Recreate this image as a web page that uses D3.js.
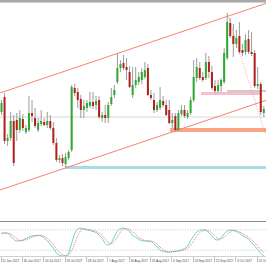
<!DOCTYPE html>
<html>
<head>
<meta charset="utf-8">
<script src="https://cdn.jsdelivr.net/npm/d3@7"></script>
<style>
  html, body { margin: 0; padding: 0; background: #fff; }
  svg { display: block; }
</style>
</head>
<body>
<svg id="chart" width="266" height="266"></svg>
<script>
// daily bars, price in points above the panel floor
var opens  = [110,125,81,84,101,102,92,103,90,92,109,104,92,98,100,97,101,94,79,62,64,58,64,72,134,130,123,112,114,116,120,117,122,104,107,104,118,127,140,154,159,155,150,127,137,140,142,145,154,127,122,112,114,121,117,112,99,106,92,108,112,105,109,122,144,154,145,144,160,150,136,131,136,140,164,199,186,178,186,172,170,183,170,169,136,138,109];
var highs  = [122,129,88,110,107,109,112,108,97,126,122,114,104,112,104,110,107,100,84,67,68,69,72,137,138,134,127,122,122,130,130,126,126,110,117,120,134,137,169,162,167,164,156,155,155,150,154,160,158,132,129,120,135,126,122,122,109,109,112,117,117,112,125,162,164,160,150,169,166,156,142,142,144,174,209,204,198,192,200,178,188,192,190,172,155,140,116];
var lows   = [107,78,76,81,56,81,89,91,88,90,100,94,90,96,96,94,92,77,60,59,56,55,62,70,126,114,104,104,110,114,113,112,103,100,99,99,116,124,138,150,152,142,134,124,134,137,138,143,126,122,109,110,112,115,106,98,94,91,91,106,104,103,107,120,140,142,140,142,144,132,129,129,130,138,162,184,165,174,168,166,167,168,166,134,133,107,105];
var closes = [119,81,84,101,59,92,104,94,94,109,106,96,99,101,97,101,94,79,62,64,59,65,70,135,129,122,112,116,119,120,116,121,105,107,104,117,125,132,154,158,154,152,135,137,142,145,150,152,127,124,112,117,122,117,107,99,102,92,109,112,106,109,122,145,155,144,142,160,150,134,131,137,142,169,200,186,178,184,170,169,182,170,168,136,138,110,113];

// stochastic %K and %D per bar
var stochK = [70,71,70,62,52,47,48,50,54,59,62,63,64,62,56,48,38,26,12,5,3,3,12,40,68,82,85,82,80,78,75,72,64,55,40,35,42,60,76,84,85,82,76,63,58,52,48,47,47,46,38,30,20,17,15,14,16,17,18,21,25,32,48,62,73,78,80,78,72,62,52,50,56,68,76,79,78,75,70,63,58,52,42,33,22,10,4];
var stochD = [68,70,70,68,61,54,49,48,51,54,58,61,63,63,61,55,47,37,25,14,7,4,6,18,40,63,78,83,82,80,78,75,70,64,53,43,39,46,59,73,82,84,81,74,66,58,53,49,47,47,44,38,29,22,17,15,15,16,17,19,21,26,35,47,61,71,77,79,77,71,62,55,53,58,67,74,78,77,74,69,64,58,51,42,32,22,12];
var stochLevels = [80, 20];

var dateTicks = [0, 7, 14, 21, 28, 35, 42, 49, 56, 63, 70, 77, 84];
var dateLabels = ["21 Jun 2017", "30 Jun 2017", "10 Jul 2017", "19 Jul 2017", "28 Jul 2017", "7 Aug 2017",
                  "16 Aug 2017", "25 Aug 2017", "4 Sep 2017", "13 Sep 2017", "22 Sep 2017", "3 Oct 2017", "12 Oct 2017"];

// drawn objects: [bar, price] anchors
var channelUpper = [[0, 129.5], [86, 217.9]];
var channelLower = [[0, 32.5], [86, 120.9]];
var dropLine = [[74, 209], [86.4, 89]];
// zones: start bar, price low, price high
var zones = [
    {from: 20.8, to: 87, lo: 53, hi: 56, color: "#a9dde4"},
    {from: 55.3, to: 87, lo: 90, hi: 94, color: "#f9a483"},
    {from: 65.4, to: 85.4, lo: 127, hi: 130, color: "#f8bccb"}
];
var levelLines = [
    {from: -1, to: 87, price: 105, color: "#d6d6d6"},
    {from: 74, to: 87, price: 131, color: "#9a9a9a"}
];

var svg = d3.select("#chart");
var W = 266;

var x = d3.scaleLinear().domain([0, 86]).range([1.5, 263.8]);
var y = d3.scaleLinear().domain([0, 218]).range([222, 4]);
var yOsc = d3.scaleLinear().domain([0, 100]).range([257, 223]);

svg.append("defs").append("clipPath").attr("id", "mainClip")
    .append("rect").attr("x", 0).attr("y", 3).attr("width", W).attr("height", 218);

// title strip
svg.append("rect").attr("x", 0).attr("y", 0).attr("width", W).attr("height", 2.5).attr("fill", "#a8a8a8");

var main = svg.append("g").attr("clip-path", "url(#mainClip)");

main.selectAll("rect.zone").data(zones).enter().append("rect")
    .attr("class", "zone")
    .attr("x", function(d) { return x(d.from); })
    .attr("width", function(d) { return x(d.to) - x(d.from); })
    .attr("y", function(d) { return y(d.hi); })
    .attr("height", function(d) { return y(d.lo) - y(d.hi); })
    .attr("fill", function(d) { return d.color; });

main.selectAll("line.level").data(levelLines).enter().append("line")
    .attr("x1", function(d) { return x(d.from); })
    .attr("x2", function(d) { return x(d.to); })
    .attr("y1", function(d) { return y(d.price); })
    .attr("y2", function(d) { return y(d.price); })
    .attr("stroke", function(d) { return d.color; })
    .attr("stroke-width", 1);

// extend a two-point line over the whole width
var extend = function(pts) {
    var slope = (pts[1][1] - pts[0][1]) / (pts[1][0] - pts[0][0]);
    var i0 = -2, i1 = 89;
    return [[i0, pts[0][1] + slope * (i0 - pts[0][0])], [i1, pts[0][1] + slope * (i1 - pts[0][0])]];
};

[channelUpper, channelLower].forEach(function(pts) {
    var e = extend(pts);
    main.append("line")
        .attr("x1", x(e[0][0])).attr("y1", y(e[0][1]))
        .attr("x2", x(e[1][0])).attr("y2", y(e[1][1]))
        .attr("stroke", "#f5846c").attr("stroke-width", 1);
});

main.append("line")
    .attr("x1", x(dropLine[0][0])).attr("y1", y(dropLine[0][1]))
    .attr("x2", x(dropLine[1][0])).attr("y2", y(dropLine[1][1]))
    .attr("stroke", "#f08a8a").attr("stroke-width", 0.8).attr("stroke-dasharray", "1,1.5");

var bars = d3.range(opens.length);

main.selectAll("line.wick").data(bars).enter().append("line")
    .attr("class", "wick")
    .attr("x1", function(i) { return x(i); })
    .attr("x2", function(i) { return x(i); })
    .attr("y1", function(i) { return y(highs[i]); })
    .attr("y2", function(i) { return y(lows[i]); })
    .attr("stroke", "#9c9c9c").attr("stroke-width", 1);

main.selectAll("rect.body").data(bars).enter().append("rect")
    .attr("class", "body")
    .attr("x", function(i) { return x(i) - 1; })
    .attr("width", 2)
    .attr("y", function(i) { return y(Math.max(opens[i], closes[i])); })
    .attr("height", function(i) { return Math.max(1, Math.abs(y(opens[i]) - y(closes[i]))); })
    .attr("fill", function(i) { return closes[i] >= opens[i] ? "#2fa82f" : "#b3201c"; });

// panel separator
svg.append("line").attr("x1", 0).attr("x2", W).attr("y1", 221.5).attr("y2", 221.5)
    .attr("stroke", "#8c8c8c").attr("stroke-width", 1);

// oscillator
var osc = svg.append("g");
osc.selectAll("line.lvl").data(stochLevels).enter().append("line")
    .attr("x1", 0).attr("x2", W)
    .attr("y1", function(d) { return yOsc(d); })
    .attr("y2", function(d) { return yOsc(d); })
    .attr("stroke", "#b0b0b0").attr("stroke-width", 0.7).attr("stroke-dasharray", "1,1.5");

var oscLine = function(vals) {
    return d3.line().x(function(d, i) { return x(i); }).y(function(d) { return yOsc(d); })
        .curve(d3.curveMonotoneX)(vals);
};

osc.append("path").attr("d", oscLine(stochK))
    .attr("fill", "none").attr("stroke", "#63d3cf").attr("stroke-width", 1);
osc.append("path").attr("d", oscLine(stochD))
    .attr("fill", "none").attr("stroke", "#f06a6a").attr("stroke-width", 0.9).attr("stroke-dasharray", "1,1");

// time axis
svg.append("line").attr("x1", 0).attr("x2", W).attr("y1", 256.5).attr("y2", 256.5)
    .attr("stroke", "#d0d0d0").attr("stroke-width", 1);

var axis = svg.append("g");
axis.selectAll("line.tick").data(dateTicks).enter().append("line")
    .attr("x1", function(d) { return Math.round(x(d)) - 0.5; })
    .attr("x2", function(d) { return Math.round(x(d)) - 0.5; })
    .attr("y1", 257).attr("y2", 262)
    .attr("stroke", "#9a9a9a").attr("stroke-width", 0.6);
axis.selectAll("text").data(dateTicks).enter().append("text")
    .attr("x", function(d) { return x(d) + 0.8; })
    .attr("y", 261.5)
    .attr("font-family", "Liberation Sans, Arial, sans-serif")
    .attr("font-size", 3.1)
    .attr("fill", "#444")
    .text(function(d, i) { return dateLabels[i]; });
</script>
</body>
</html>
